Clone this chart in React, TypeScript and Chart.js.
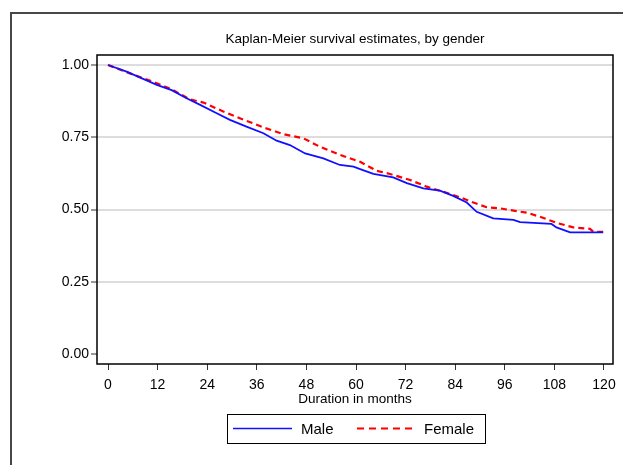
import React, { useEffect, useRef } from "react";
import { Chart, registerables } from "chart.js";

Chart.register(...registerables);

const chartTitle = "Kaplan-Meier survival estimates, by gender";
const xAxisTitle = "Duration in months";
const seriesNames = ["Male", "Female"];
const xTickValues = [0, 12, 24, 36, 48, 60, 72, 84, 96, 108, 120];
const yTickValues = [0, 0.25, 0.5, 0.75, 1];

const maleTime = [0, 4.5, 11.8, 15.4, 19, 22.3, 26.3, 29.5, 33.5, 37.6, 40.8, 44, 47.7, 52.1, 56.1, 59.4, 61, 64.2, 69, 72.3, 76.3, 80.3, 83.5, 86.8, 89.2, 93.2, 98.1, 99.7, 107.3, 108.5, 111.8, 119.8];
const maleSurv = [1.0, 0.977, 0.931, 0.913, 0.885, 0.862, 0.833, 0.81, 0.787, 0.764, 0.738, 0.723, 0.694, 0.677, 0.654, 0.648, 0.64, 0.623, 0.611, 0.591, 0.573, 0.565, 0.547, 0.524, 0.492, 0.469, 0.464, 0.456, 0.45, 0.438, 0.421, 0.421];

const femaleTime = [0, 5.3, 11.8, 15.4, 19.8, 23.1, 27.9, 31.9, 37.6, 42.4, 47.3, 51.3, 56.1, 61, 65, 68.2, 73.1, 77.1, 81.9, 85.2, 88.4, 91.6, 94.8, 98.1, 101.3, 104.5, 108.5, 112.6, 116.6, 117.4, 119.8];
const femaleSurv = [1.0, 0.971, 0.937, 0.916, 0.881, 0.87, 0.839, 0.816, 0.784, 0.761, 0.746, 0.717, 0.689, 0.665, 0.634, 0.623, 0.602, 0.579, 0.558, 0.542, 0.524, 0.508, 0.504, 0.496, 0.489, 0.475, 0.454, 0.438, 0.433, 0.423, 0.423];

const FONT = "'Liberation Sans', Arial, Helvetica, sans-serif";
const BLUE = "#1010ff";
const RED = "#ff0000";

const decorPlugin = {
  id: "decor",
  afterDraw(chart: any) {
    const ctx = chart.ctx as CanvasRenderingContext2D;
    const ca = chart.chartArea;
    const cx = (ca.left + ca.right) / 2;
    ctx.save();
    // outer graph region frame
    ctx.strokeStyle = "#474747";
    ctx.lineWidth = 2;
    ctx.strokeRect(11, 13, 700, 600);
    // plot frame
    ctx.strokeStyle = "#000";
    ctx.lineWidth = 1.5;
    ctx.strokeRect(ca.left, ca.top, ca.right - ca.left, ca.bottom - ca.top);
    // title
    ctx.fillStyle = "#000";
    ctx.textAlign = "center";
    ctx.textBaseline = "alphabetic";
    ctx.font = `13.5px ${FONT}`;
    ctx.fillText(chartTitle, cx, 43);
    // x axis title
    ctx.font = `13.5px ${FONT}`;
    ctx.fillText(xAxisTitle, cx, 403);
    // legend
    const lx = 227, ly = 414, lw = 258, lh = 29;
    ctx.strokeStyle = "#000";
    ctx.lineWidth = 1;
    ctx.strokeRect(lx + 0.5, ly + 0.5, lw, lh);
    const midY = 428.5;
    ctx.lineWidth = 1.5;
    ctx.strokeStyle = BLUE;
    ctx.beginPath();
    ctx.moveTo(233, midY);
    ctx.lineTo(292, midY);
    ctx.stroke();
    ctx.strokeStyle = RED;
    ctx.lineWidth = 1.8;
    ctx.setLineDash([7, 5]);
    ctx.beginPath();
    ctx.moveTo(357, midY);
    ctx.lineTo(415, midY);
    ctx.stroke();
    ctx.setLineDash([]);
    ctx.font = `15px ${FONT}`;
    ctx.textAlign = "left";
    ctx.fillStyle = "#000";
    ctx.fillText(seriesNames[0], 301, 434);
    ctx.fillText(seriesNames[1], 424, 434);
    ctx.restore();
  },
};

export default function App() {
  const ref = useRef<HTMLCanvasElement | null>(null);
  useEffect(() => {
    if (!ref.current) return;
    const maleData = maleTime.map((t, i) => ({ x: t, y: maleSurv[i] }));
    const femaleData = femaleTime.map((t, i) => ({ x: t, y: femaleSurv[i] }));
    const chart = new Chart(ref.current, {
      type: "line",
      data: {
        datasets: [
          {
            label: seriesNames[0],
            data: maleData,
            borderColor: BLUE,
            borderWidth: 1.8,
            pointRadius: 0,
            tension: 0,
            fill: false,
          },
          {
            label: seriesNames[1],
            data: femaleData,
            borderColor: RED,
            borderWidth: 2.2,
            borderDash: [6, 4],
            pointRadius: 0,
            tension: 0,
            fill: false,
          },
        ],
      },
      options: {
        responsive: false,
        animation: false,
        layout: { padding: { left: 0, top: 55, right: 10, bottom: 71 } },
        plugins: {
          legend: { display: false },
          title: { display: false },
          tooltip: { enabled: false },
        },
        scales: {
          x: {
            type: "linear",
            min: -11 / 4.1333,
            max: 120 + 9 / 4.1333,
            afterBuildTicks: (scale: any) => {
              scale.ticks = xTickValues.map((v) => ({ value: v }));
            },
            afterFit: (scale: any) => {
              scale.height = 30;
            },
            border: { display: false },
            grid: {
              drawOnChartArea: false,
              drawTicks: true,
              tickLength: 6,
              tickColor: "#333",
              tickWidth: 1,
            },
            ticks: {
              autoSkip: false,
              maxRotation: 0,
              padding: 7,
              color: "#000",
              font: { family: FONT, size: 14 },
              callback: (v: any) => String(v),
            },
          },
          y: {
            type: "linear",
            min: -10 / 289,
            max: 1 + 10 / 289,
            afterBuildTicks: (scale: any) => {
              scale.ticks = yTickValues.map((v) => ({ value: v }));
            },
            afterFit: (scale: any) => {
              scale.width = 97;
            },
            border: { display: false },
            grid: {
              color: (c: any) => (c.tick && c.tick.value === 0 ? "rgba(0,0,0,0)" : "#dddddd"),
              lineWidth: 2,
              drawTicks: true,
              tickLength: 6,
              tickColor: "#333",
              tickWidth: 1,
            },
            ticks: {
              padding: 2,
              color: "#000",
              font: { family: FONT, size: 14 },
              callback: (v: any) => Number(v).toFixed(2),
            },
          },
        },
      },
      plugins: [decorPlugin],
    });
    return () => chart.destroy();
  }, []);
  return (
    <div style={{ position: "absolute", left: 0, top: 0, width: 623, height: 465, background: "#fff" }}>
      <canvas ref={ref} width={623} height={465} style={{ display: "block" }} />
    </div>
  );
}
